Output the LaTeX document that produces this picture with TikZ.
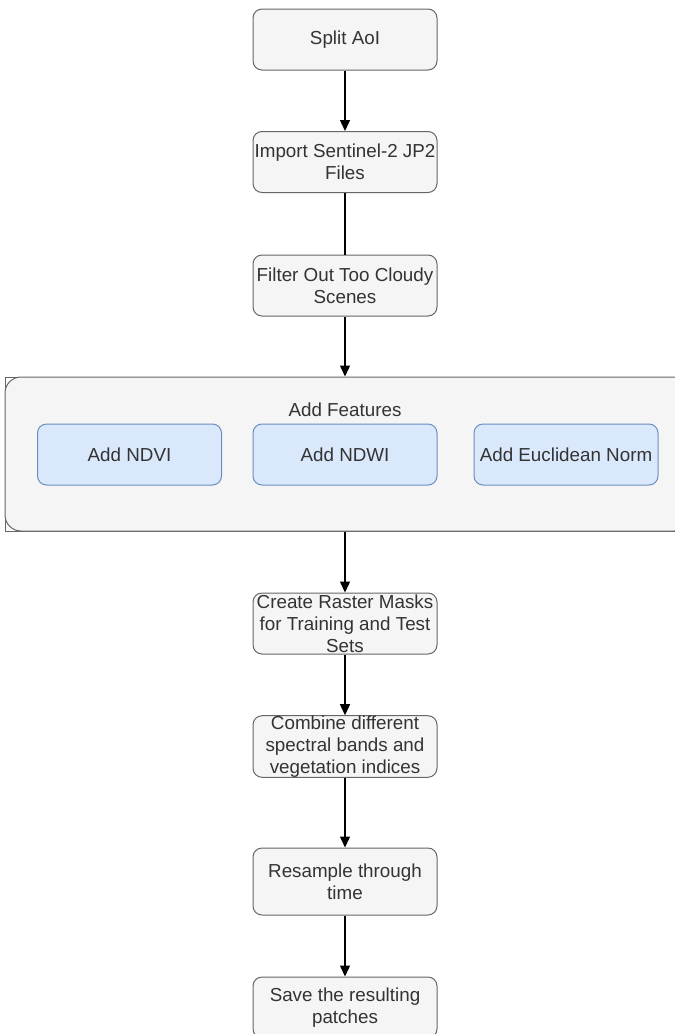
\documentclass[tikz,border=0pt]{standalone}
\usepackage{fontspec}
\setmainfont{Liberation Sans}
\usetikzlibrary{arrows.meta}

\definecolor{stepfill}{HTML}{F5F5F5}
\definecolor{stepline}{HTML}{666666}
\definecolor{featfill}{HTML}{DAE8FC}
\definecolor{featline}{HTML}{6C8EBF}
\definecolor{steptext}{HTML}{333333}

\tikzset{
  stepbox/.style={draw=stepline, fill=stepfill, rounded corners=9pt, line width=1pt,
    minimum width=184pt, minimum height=61pt, inner sep=0pt, align=center,
    text=steptext, font=\fontsize{18.8}{22}\selectfont},
  featbox/.style={stepbox, draw=featline, fill=featfill},
  flow/.style={line width=1.3pt, -{Stealth[length=11pt,width=10pt,inset=0pt]}},
  plain/.style={line width=1.3pt}
}

\begin{document}
\begin{tikzpicture}[x=1pt,y=-1pt]
\useasboundingbox (0,0) rectangle (675,1034);

% main chain
\node[stepbox] (split) at (345, 39.5) {Split AoI};
\node[stepbox] (import) at (345, 162) {Import Sentinel-2 JP2\\Files};
\node[stepbox] (filter) at (345, 285.5) {Filter Out Too Cloudy\\Scenes};

% feature container
\draw[stepline, line width=1pt] (5, 377) rectangle (690, 531);
\node[stepbox, rounded corners=16pt, minimum width=685pt, minimum height=154pt] (features) at (347.5, 454) {};
\node[text=steptext, font=\fontsize{18.8}{22}\selectfont] (title) at (345, 410) {Add Features};
\node[featbox] (ndvi) at (129.5, 454.5) {Add NDVI};
\node[featbox] (ndwi) at (345, 454.5) {Add NDWI};
\node[featbox] (norm) at (566, 454.5) {Add Euclidean Norm};

\node[stepbox] (masks) at (345, 623.5) {Create Raster Masks\\for Training and Test\\Sets};
\node[stepbox] (combine) at (345, 746.5) {Combine different\\spectral bands and\\vegetation indices};
\node[stepbox, minimum height=67pt] (resample) at (345, 881.5) {Resample through\\time};
\node[stepbox] (save) at (345, 1007.5) {Save the resulting\\patches};

% connectors
\draw[flow] (split) -- (import);
\draw[plain] (import) -- (filter);
\draw[flow] (filter.south) -- (filter.south |- features.north);
\draw[flow] (filter.south |- features.south) -- (masks.north);
\draw[flow] (masks) -- (combine);
\draw[flow] (combine) -- (resample);
\draw[flow] (resample) -- (save);

\end{tikzpicture}
\end{document}
